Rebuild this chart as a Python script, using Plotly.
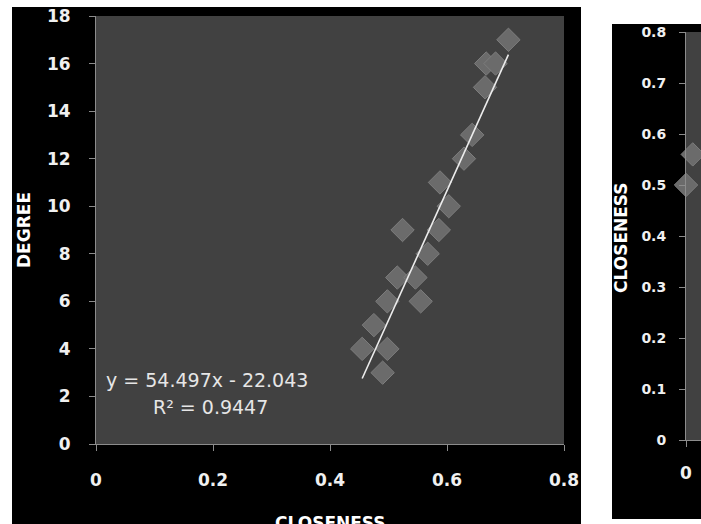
import plotly.graph_objects as go

# ---- data (left chart: DEGREE vs CLOSENESS) ----
closeness = [0.705, 0.667, 0.683, 0.665, 0.643, 0.629, 0.588, 0.603, 0.524, 0.586,
             0.567, 0.515, 0.546, 0.498, 0.555, 0.475, 0.455, 0.498, 0.490]
degree = [17, 16, 16, 15, 13, 12, 11, 10, 9, 9,
          8, 7, 7, 6, 6, 5, 4, 4, 3]
trend_slope = 54.497
trend_intercept = -22.043
trend_label = "y = 54.497x - 22.043"
r2_label = "R² = 0.9447"

# ---- data (right chart, mostly cut off) ----
right_x = [0.0, 0.045]
right_closeness = [0.5, 0.56]

x_ticks = [0, 0.2, 0.4, 0.6, 0.8]
y_ticks = [0, 2, 4, 6, 8, 10, 12, 14, 16, 18]
right_y_ticks = [0, 0.1, 0.2, 0.3, 0.4, 0.5, 0.6, 0.7, 0.8]

W, H = 701, 524


def px(x):
    return x / W


def py(y):
    return 1 - y / H


trend_x = [min(closeness), max(closeness)]
trend_y = [trend_slope * v + trend_intercept for v in trend_x]

FONT = "DejaVu Sans"
diamond = dict(symbol="diamond", size=18, color="#6b6b6b",
               line=dict(color="#7d7d7d", width=1))

fig = go.Figure()
fig.add_trace(go.Scatter(x=closeness, y=degree, mode="markers", marker=diamond,
                         xaxis="x", yaxis="y", showlegend=False))
fig.add_trace(go.Scatter(x=trend_x, y=trend_y, mode="lines",
                         line=dict(color="#ececec", width=1.6),
                         xaxis="x", yaxis="y", showlegend=False))
fig.add_trace(go.Scatter(x=right_x, y=right_closeness, mode="markers", marker=diamond,
                         xaxis="x2", yaxis="y2", showlegend=False, cliponaxis=False))

tick_font = dict(family=FONT, size=17, color="#f0f0f0", weight="bold")
axis_common = dict(showgrid=False, zeroline=False, showline=True, linecolor="#8c8c8c",
                   linewidth=1, ticks="outside", ticklen=6, tickcolor="#8c8c8c",
                   automargin=False, tickfont=tick_font)

title_font = dict(family=FONT, size=17, color="white")
fig.update_layout(
    width=W, height=H, margin=dict(l=0, r=0, t=0, b=0, pad=0, autoexpand=False),
    paper_bgcolor="white", plot_bgcolor="#414141",
    xaxis=dict(axis_common, domain=[px(96), px(564)], range=[0, 0.8],
               tickvals=x_ticks, ticklabelstandoff=15, anchor="y"),
    yaxis=dict(axis_common, domain=[py(444), py(16)], range=[0, 18],
               tickvals=y_ticks, ticklabelstandoff=15, anchor="x"),
    xaxis2=dict(axis_common, domain=[px(686), 1], range=[0, 0.1],
                tickvals=[0], ticklabelstandoff=12, anchor="y2"),
    yaxis2=dict(axis_common, domain=[py(440), py(32)], range=[0, 0.8],
                tickvals=right_y_ticks, ticklabelstandoff=10, anchor="x2",
                tickfont=dict(family=FONT, size=14, color="#f0f0f0", weight="bold")),
    shapes=[
        dict(type="rect", xref="paper", yref="paper", x0=px(12), x1=px(581),
             y0=py(524), y1=py(7), fillcolor="black", line=dict(width=0), layer="below"),
        dict(type="rect", xref="paper", yref="paper", x0=px(612), x1=1,
             y0=py(519), y1=py(24), fillcolor="black", line=dict(width=0), layer="below"),
        dict(type="rect", xref="paper", yref="paper", x0=px(96), x1=px(564),
             y0=py(444), y1=py(16), fillcolor="#414141", line=dict(width=0), layer="below"),
        dict(type="rect", xref="paper", yref="paper", x0=px(686), x1=1,
             y0=py(440), y1=py(32), fillcolor="#414141", line=dict(width=0), layer="below"),
    ],
    annotations=[
        dict(text=trend_label, xref="paper", yref="paper", x=px(207), y=py(380),
             xanchor="center", yanchor="middle", showarrow=False,
             font=dict(family=FONT, size=19, color="#e6e6e6")),
        dict(text=r2_label, xref="paper", yref="paper", x=px(210), y=py(407),
             xanchor="center", yanchor="middle", showarrow=False,
             font=dict(family=FONT, size=19, color="#e6e6e6")),
        dict(text="<b>DEGREE</b>", xref="paper", yref="paper", x=px(24), y=py(230),
             xanchor="center", yanchor="middle",
             textangle=-90, showarrow=False, font=title_font),
        dict(text="<b>CLOSENESS</b>", xref="paper", yref="paper", x=px(330), y=py(511),
             xanchor="center", yanchor="top", showarrow=False, font=title_font),
        dict(text="<b>CLOSENESS</b>", xref="paper", yref="paper", x=px(621), y=py(238),
             xanchor="center", yanchor="middle",
             textangle=-90, showarrow=False, font=title_font),
    ],
)

fig.write_html("out.html", config={"displayModeBar": False},
               post_script="document.body.style.margin='0';document.body.style.overflow='hidden';")
